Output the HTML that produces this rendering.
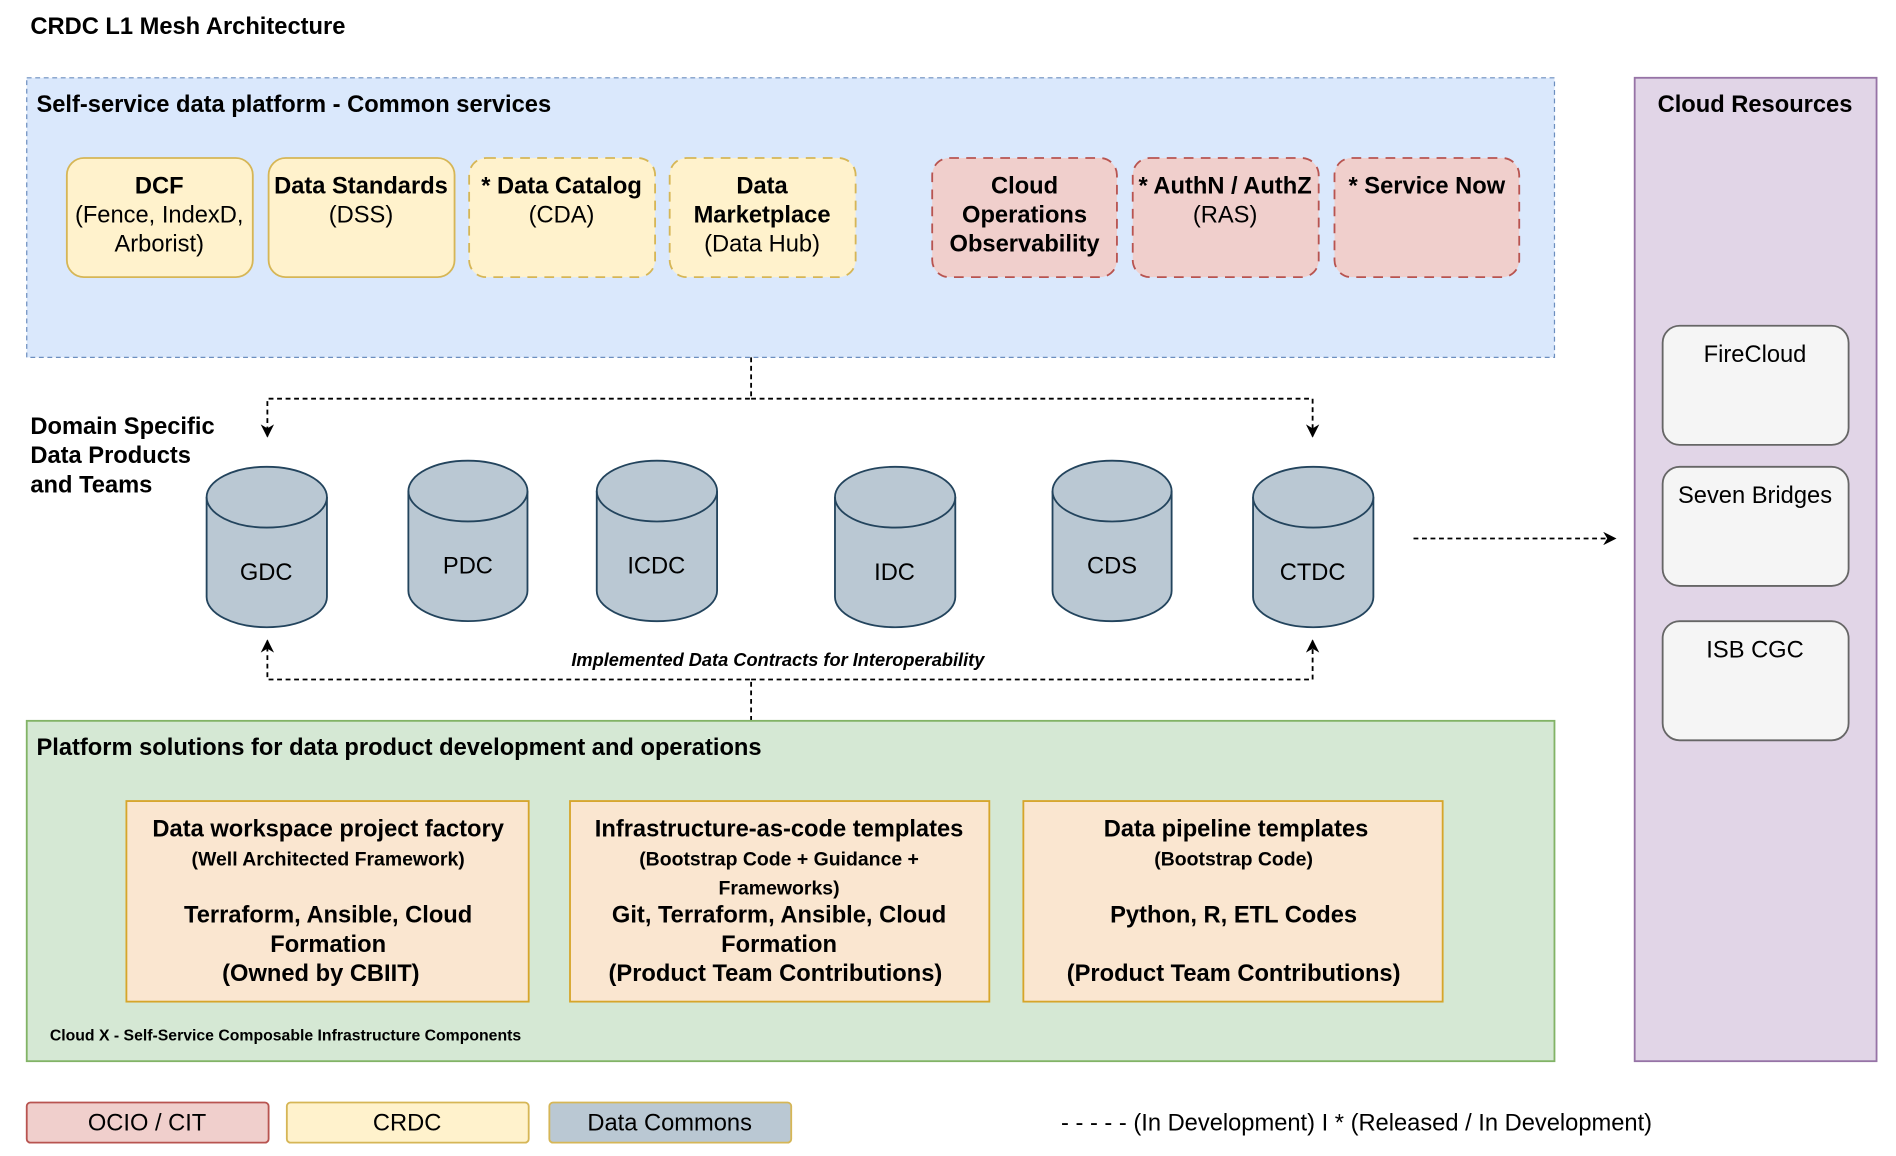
<!DOCTYPE html>
<html><head><meta charset="utf-8"><style>
html,body{margin:0;padding:0;background:#fff}
svg{display:block}
text{font-family:"Liberation Sans",Arial,sans-serif;fill:#000}
.b{font-weight:bold}
</style></head><body>
<svg width="1896" height="1156" viewBox="0 0 1560 951" preserveAspectRatio="none" xmlns="http://www.w3.org/2000/svg">
<defs>
<marker id="ah" viewBox="0 0 10 10" refX="9" refY="5" markerWidth="11" markerHeight="11" orient="auto" markerUnits="userSpaceOnUse">
<path d="M0,0 L10,5 L0,10 L3,5 z" fill="#000"/>
</marker>
</defs>
<text x="25" y="28" class="b" font-size="19.5">CRDC L1 Mesh Architecture</text>

<rect x="22" y="64" width="1257" height="230" fill="#dae8fc" stroke="#6c8ebf" stroke-dasharray="4 3"/>
<text x="30" y="92" class="b" font-size="19.5">Self-service data platform - Common services</text>

<g font-size="19.5" text-anchor="middle">
<rect x="55" y="130" width="153" height="98" rx="14" fill="#fff2cc" stroke="#d6b656" stroke-width="1.5"/>
<text x="131" y="159" class="b">DCF</text><text x="131" y="183">(Fence, IndexD,</text><text x="131" y="207">Arborist)</text>
<rect x="221" y="130" width="153" height="98" rx="14" fill="#fff2cc" stroke="#d6b656" stroke-width="1.5"/>
<text x="297" y="159" class="b">Data Standards</text><text x="297" y="183">(DSS)</text>
<rect x="386" y="130" width="153" height="98" rx="14" fill="#fff2cc" stroke="#d6b656" stroke-width="1.5" stroke-dasharray="8 6"/>
<text x="462" y="159" class="b">* Data Catalog</text><text x="462" y="183">(CDA)</text>
<rect x="551" y="130" width="153" height="98" rx="14" fill="#fff2cc" stroke="#d6b656" stroke-width="1.5" stroke-dasharray="8 6"/>
<text x="627" y="159" class="b">Data</text><text x="627" y="183" class="b">Marketplace</text><text x="627" y="207">(Data Hub)</text>
<rect x="767" y="130" width="152" height="98" rx="14" fill="#f0cfcc" stroke="#b85450" stroke-width="1.5" stroke-dasharray="8 6"/>
<text x="843" y="159" class="b">Cloud</text><text x="843" y="183" class="b">Operations</text><text x="843" y="207" class="b">Observability</text>
<rect x="932" y="130" width="153" height="98" rx="14" fill="#f0cfcc" stroke="#b85450" stroke-width="1.5" stroke-dasharray="8 6"/>
<text x="1008" y="159" class="b">* AuthN / AuthZ</text><text x="1008" y="183">(RAS)</text>
<rect x="1098" y="130" width="152" height="98" rx="14" fill="#f0cfcc" stroke="#b85450" stroke-width="1.5" stroke-dasharray="8 6"/>
<text x="1174" y="159" class="b">* Service Now</text>
</g>

<rect x="1345" y="64" width="199" height="809" fill="#e1d5e7" stroke="#9673a6" stroke-width="1.5"/>
<text x="1444" y="92" class="b" font-size="19.5" text-anchor="middle">Cloud Resources</text>
<g font-size="19.5" text-anchor="middle">
<rect x="1368" y="268" width="153" height="98" rx="14" fill="#f5f5f5" stroke="#666" stroke-width="1.5"/>
<text x="1444" y="298" fill="#333">FireCloud</text>
<rect x="1368" y="384" width="153" height="98" rx="14" fill="#f5f5f5" stroke="#666" stroke-width="1.5"/>
<text x="1444" y="414" fill="#333">Seven Bridges</text>
<rect x="1368" y="511" width="153" height="98" rx="14" fill="#f5f5f5" stroke="#666" stroke-width="1.5"/>
<text x="1444" y="541" fill="#333">ISB CGC</text>
</g>

<g fill="none" stroke="#000" stroke-width="1.5" stroke-dasharray="4 3">
<path d="M618,294 V328 H220 V359" marker-end="url(#ah)"/>
<path d="M618,328 H1080 V359" marker-end="url(#ah)"/>
<path d="M1163,443 H1329" marker-end="url(#ah)"/>
<path d="M618,593 V559 H220 V527" marker-end="url(#ah)"/>
<path d="M618,559 H1080 V527" marker-end="url(#ah)"/>
</g>

<g font-size="19.5" class="b"><text x="25" y="357">Domain Specific</text><text x="25" y="381">Data Products</text><text x="25" y="405">and Teams</text></g>

<g fill="#bac8d3" stroke="#23445d" stroke-width="1.5">
<path d="M170,409 A49.5,25 0 0 1 269,409 V491 A49.5,25 0 0 1 170,491 Z"/><path d="M170,409 A49.5,25 0 0 0 269,409" fill="none"/>
<path d="M336,404 A49,25 0 0 1 434,404 V486 A49,25 0 0 1 336,486 Z"/><path d="M336,404 A49,25 0 0 0 434,404" fill="none"/>
<path d="M491,404 A49.5,25 0 0 1 590,404 V486 A49.5,25 0 0 1 491,486 Z"/><path d="M491,404 A49.5,25 0 0 0 590,404" fill="none"/>
<path d="M687,409 A49.5,25 0 0 1 786,409 V491 A49.5,25 0 0 1 687,491 Z"/><path d="M687,409 A49.5,25 0 0 0 786,409" fill="none"/>
<path d="M866,404 A49,25 0 0 1 964,404 V486 A49,25 0 0 1 866,486 Z"/><path d="M866,404 A49,25 0 0 0 964,404" fill="none"/>
<path d="M1031,409 A49.5,25 0 0 1 1130,409 V491 A49.5,25 0 0 1 1031,491 Z"/><path d="M1031,409 A49.5,25 0 0 0 1130,409" fill="none"/>
</g>
<g font-size="19.5" text-anchor="middle">
<text x="219" y="477">GDC</text><text x="385" y="472">PDC</text><text x="540" y="472">ICDC</text>
<text x="736" y="477">IDC</text><text x="915" y="472">CDS</text><text x="1080" y="477">CTDC</text>
</g>
<text x="640" y="548" font-size="15" font-style="italic" font-weight="bold" text-anchor="middle">Implemented Data Contracts for Interoperability</text>

<rect x="22" y="593" width="1257" height="280" fill="#d5e8d4" stroke="#82b366" stroke-width="1.5"/>
<text x="30" y="621" class="b" font-size="19.5">Platform solutions for data product development and operations</text>
<g class="b" text-anchor="middle">
<rect x="104" y="659" width="331" height="165" fill="#fae6d0" stroke="#d6a52a" stroke-width="1.5"/>
<text x="270" y="688" font-size="19.5">Data workspace project factory</text>
<text x="270" y="712" font-size="16">(Well Architected Framework)</text>
<text x="270" y="759" font-size="19.5">Terraform, Ansible, Cloud</text>
<text x="270" y="783" font-size="19.5">Formation</text>
<text x="264" y="807" font-size="19.5">(Owned by CBIIT)</text>
<rect x="469" y="659" width="345" height="165" fill="#fae6d0" stroke="#d6a52a" stroke-width="1.5"/>
<text x="641" y="688" font-size="19.5">Infrastructure-as-code templates</text>
<text x="641" y="712" font-size="16">(Bootstrap Code + Guidance +</text>
<text x="641" y="736" font-size="16">Frameworks)</text>
<text x="641" y="759" font-size="19.5">Git, Terraform, Ansible, Cloud</text>
<text x="641" y="783" font-size="19.5">Formation</text>
<text x="638" y="807" font-size="19.5">(Product Team Contributions)</text>
<rect x="842" y="659" width="345" height="165" fill="#fae6d0" stroke="#d6a52a" stroke-width="1.5"/>
<text x="1017" y="688" font-size="19.5">Data pipeline templates</text>
<text x="1015" y="712" font-size="16">(Bootstrap Code)</text>
<text x="1015" y="759" font-size="19.5">Python, R, ETL Codes</text>
<text x="1015" y="807" font-size="19.5">(Product Team Contributions)</text>
</g>
<text x="41" y="856" class="b" font-size="13">Cloud X - Self-Service Composable Infrastructure Components</text>

<g font-size="19.5" text-anchor="middle">
<rect x="22" y="907" width="199" height="33" rx="3" fill="#f0cfcc" stroke="#b85450" stroke-width="1.5"/>
<text x="121" y="930">OCIO / CIT</text>
<rect x="236" y="907" width="199" height="33" rx="3" fill="#fff2cc" stroke="#d6b656" stroke-width="1.5"/>
<text x="335" y="930">CRDC</text>
<rect x="452" y="907" width="199" height="33" rx="3" fill="#bac8d3" stroke="#d6b656" stroke-width="1.5"/>
<text x="551" y="930">Data Commons</text>
</g>
<text x="873" y="930" font-size="19.5">- - - - - (In Development) I * (Released / In Development)</text>
</svg>
</body></html>
